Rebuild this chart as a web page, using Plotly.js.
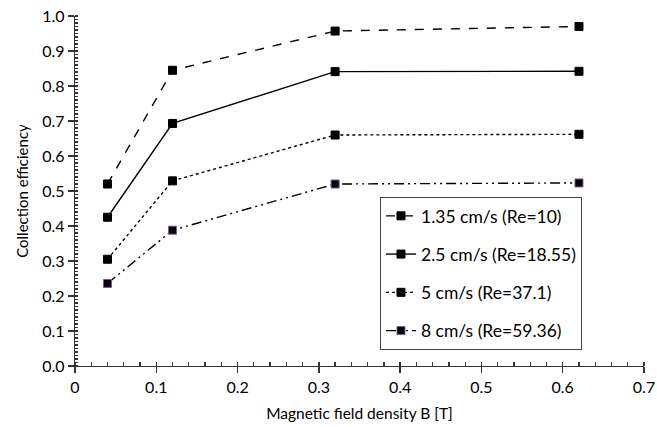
<!DOCTYPE html>
<html><head><meta charset="utf-8">
<script src="https://cdn.plot.ly/plotly-3.0.1.min.js"></script>
<style>html,body{margin:0;padding:0;background:#fff}#chart{width:657px;height:427px}</style>
</head><body><div id="chart"></div>
<script>
const fieldB = [0.04, 0.12, 0.32, 0.62];
const seriesNames = ["1.35 cm/s (Re=10)", "2.5 cm/s (Re=18.55)", "5 cm/s (Re=37.1)", "8 cm/s (Re=59.36)"];
const eff135 = [0.520, 0.845, 0.957, 0.970];
const eff25 = [0.425, 0.693, 0.841, 0.842];
const eff5 = [0.305, 0.529, 0.660, 0.662];
const eff8 = [0.236, 0.388, 0.520, 0.523];
const xTicks = [0, 0.1, 0.2, 0.3, 0.4, 0.5, 0.6, 0.7];
const xTickText = ["0", "0.1", "0.2", "0.3", "0.4", "0.5", "0.6", "0.7"];

const allY = [eff135, eff25, eff5, eff8];
const dashes = ["dash", "solid", "dot", "10px,4px,2px,4px,2px,4px"];
const markerLines = ["#000", "#000", "#000", "#7a5a94"];
const traces = allY.map((ys, i) => ({
  x: fieldB, y: ys, name: seriesNames[i], type: "scatter", mode: "lines+markers",
  legendgroup: "g" + i,
  line: {color: "#000", width: 1.4, dash: dashes[i]},
  marker: {symbol: "square", size: 8, color: "#000", line: {color: markerLines[i], width: 1}}
}));

const font = "Lato, 'Open Sans', sans-serif";
const layout = {
  width: 657, height: 427,
  margin: {l: 75, r: 13, t: 16, b: 61},
  paper_bgcolor: "#fff", plot_bgcolor: "#fff",
  font: {family: font, color: "#000", size: 16},
  showlegend: true,
  legend: {x: 0.536, y: 0.483, xanchor: "left", yanchor: "top",
    bordercolor: "#444", borderwidth: 1, bgcolor: "#fff",
    font: {family: font, size: 17.5, color: "#000"},
    itemwidth: 30,
    traceorder: "grouped", tracegroupgap: 12.5},
  xaxis: {range: [0, 0.7], tickvals: xTicks, ticktext: xTickText,
    showgrid: false, zeroline: false, showline: true, linecolor: "#333", linewidth: 1.3,
    ticks: "outside", ticklen: 6, tickcolor: "#333", tickwidth: 1.3,
    minor: {dtick: 0.02, ticks: "inside", ticklen: 4, tickcolor: "#333", showgrid: false},
    tickfont: {size: 16},
    title: {text: "Magnetic field density B [T]", font: {size: 15.5}, standoff: 13}},
  yaxis: {range: [0, 1.0], dtick: 0.1, tickformat: ".1f",
    showgrid: false, zeroline: false, showline: true, linecolor: "#333", linewidth: 1.3,
    ticks: "outside", ticklen: 6, tickcolor: "#333", tickwidth: 1.3,
    minor: {dtick: 0.01, ticks: "inside", ticklen: 3, tickcolor: "#333", showgrid: false},
    tickfont: {size: 16},
    title: {text: "Collection efficiency", font: {size: 15}, standoff: 10}}
};
Plotly.newPlot("chart", traces, layout, {displayModeBar: false, staticPlot: true});
</script></body></html>
